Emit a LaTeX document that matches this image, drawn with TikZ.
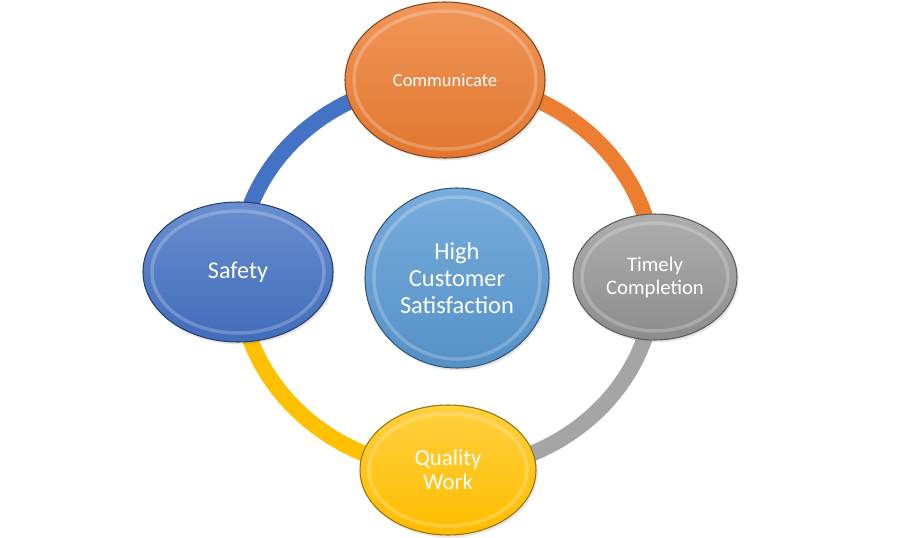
\documentclass[tikz,border=0pt]{standalone}
\usepackage{fontspec}
\setmainfont{Carlito}
\usepackage{tikz}
\usetikzlibrary{backgrounds,calc,shapes.geometric,shadows}

\definecolor{ringblue}{HTML}{4472C4}
\definecolor{ringsky}{HTML}{5B9BD5}
\definecolor{ringorange}{HTML}{ED7D31}
\definecolor{ringgray}{HTML}{A5A5A5}
\definecolor{ringyellow}{HTML}{FFC000}

\tikzset{
  bubble/.style={ellipse, inner sep=0pt, align=center, text=white, line width=0.6pt,
    drop shadow={opacity=0.2, shadow xshift=0.03cm, shadow yshift=-0.05cm},
    path picture={\draw[white, opacity=0.22, line width=2pt]
      let \p1=($(path picture bounding box.north east)-(path picture bounding box.center)$) in
      (path picture bounding box.center) ellipse [x radius=\x1-0.18cm, y radius=\y1-0.18cm];}},
  ring/.style={line width=0.32cm, draw=#1},
}

\begin{document}
\begin{tikzpicture}
\useasboundingbox (0 cm,0 cm) rectangle (18 cm,-10.76 cm);
\node[bubble, minimum width=3.68cm, minimum height=3.6cm, top color=ringsky!82!white, bottom color=ringsky!93!black, draw=ringsky!55!black,
  font=\fontsize{13.9}{15.4}\selectfont] (0) at (9.14 cm,-5.56 cm) {High\\Customer\\Satisfaction};
\node[bubble, minimum width=4.0cm, minimum height=3.12cm, top color=ringorange!80!white, bottom color=ringorange!95!black, draw=ringorange!55!black,
  font=\fontsize{10.5}{12}\selectfont] (1) at (8.9 cm,-1.6 cm) {Communicate};
\node[bubble, minimum width=3.28cm, minimum height=2.52cm, top color=ringgray!90!white, bottom color=ringgray!85!black, draw=ringgray!55!black,
  font=\fontsize{11.8}{13.1}\selectfont] (2) at (13.1 cm,-5.54 cm) {Timely\\Completion};
\node[bubble, minimum width=3.52cm, minimum height=2.6cm, top color=ringyellow!75!white, bottom color=ringyellow!95!orange, draw=ringyellow!60!black,
  font=\fontsize{13}{13.7}\selectfont] (3) at (8.96 cm,-9.4 cm) {Quality\\Work};
\node[bubble, minimum width=3.8cm, minimum height=2.8cm, top color=ringblue!80!white, bottom color=ringblue!95!black, draw=ringblue!55!black,
  font=\fontsize{13.7}{15}\selectfont] (4) at (4.76 cm,-5.44 cm) {Safety};

% ring behind the bubbles
\begin{scope}[on background layer]
\draw[ring=ringblue] (4.center) to[out=90, in=180] (1.center);
\draw[ring=ringorange] (1.center) to[out=0, in=90] (2.center);
\draw[ring=ringgray] (2.center) to[out=-90, in=0] (3.center);
\draw[ring=ringyellow] (3.center) to[out=180, in=-90] (4.center);
\end{scope}
\end{tikzpicture}
\end{document}
